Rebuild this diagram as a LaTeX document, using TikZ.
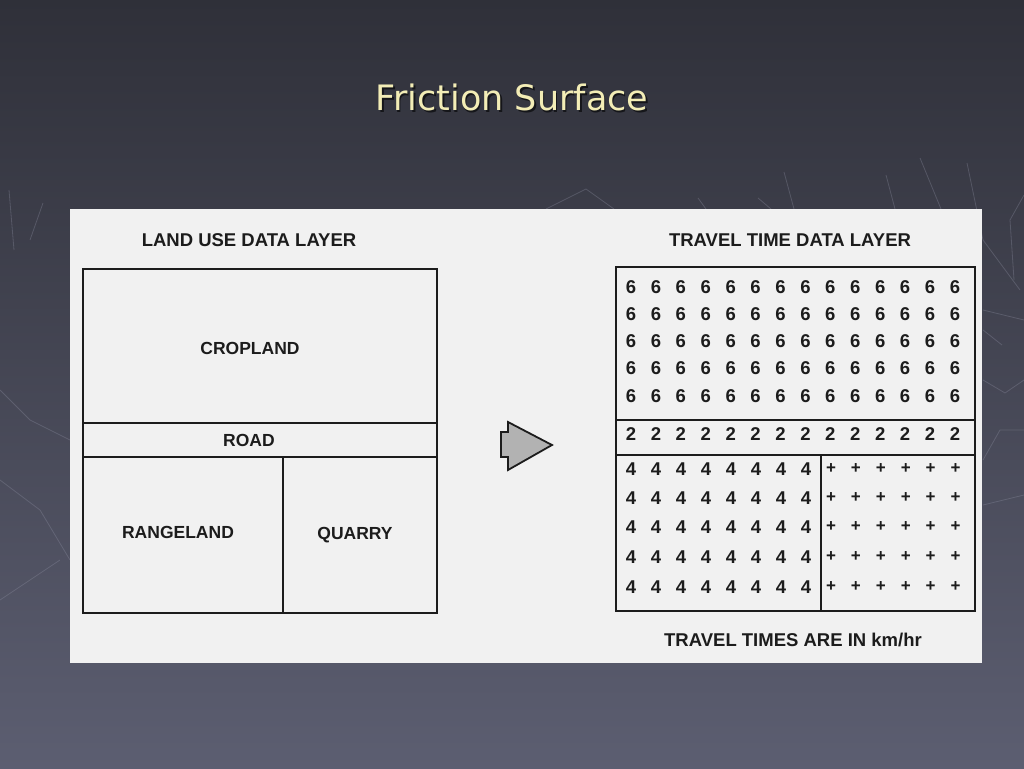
\documentclass[tikz,border=0pt]{standalone}
\usepackage{fontspec}
\newfontfamily\lab{Liberation Sans}
\newfontfamily\ttl{DejaVu Sans}
\definecolor{bgtop}{HTML}{2F3039}
\definecolor{bgbot}{HTML}{5C5E71}
\definecolor{paper}{HTML}{F1F1F1}
\definecolor{ink}{HTML}{1C1C1C}
\definecolor{titlecol}{HTML}{F3EDB6}
\definecolor{deco}{HTML}{8A8C9E}
\tikzset{
  border/.style={draw=ink, line width=1.8pt},
  divider/.style={draw=ink, line width=1.6pt},
  hdr/.style={font=\lab\bfseries\fontsize{18.5}{20}\selectfont, text=ink, inner sep=0pt},
  zone/.style={font=\lab\bfseries\fontsize{17.5}{19}\selectfont, text=ink, inner sep=0pt},
  cell/.style={font=\lab\bfseries\fontsize{18.5}{20}\selectfont, text=ink, inner sep=0pt},
  pluscell/.style={font=\lab\bfseries\fontsize{17}{18}\selectfont, text=ink, inner sep=0pt},
  decoline/.style={draw=deco, line width=0.8pt, opacity=0.35},
}
\begin{document}
\begin{tikzpicture}[x=1pt,y=-1pt]
\useasboundingbox (0,0) rectangle (1024,768);
% background
\shade[top color=bgtop, bottom color=bgbot] (0,0) rectangle (1024,768);
% faint decorative lines
\draw[decoline] (9,190) -- (14,250);
\draw[decoline] (43,203) -- (30,240);
\draw[decoline] (546,209) -- (586,189) -- (614,209);
\draw[decoline] (698,198) -- (706,209);
\draw[decoline] (758,198) -- (771,209);
\draw[decoline] (784,172) -- (794,209);
\draw[decoline] (886,175) -- (895,209);
\draw[decoline] (920,158) -- (941,209);
\draw[decoline] (967,163) -- (983,240) -- (1020,290);
\draw[decoline] (1024,195) -- (1010,220) -- (1014,280);
\draw[decoline] (983,310) -- (1024,320);
\draw[decoline] (983,330) -- (1002,345);
\draw[decoline] (983,380) -- (1005,393) -- (1024,380);
\draw[decoline] (983,460) -- (1000,430) -- (1024,430);
\draw[decoline] (983,505) -- (1024,495);
\draw[decoline] (0,390) -- (30,420) -- (70,440);
\draw[decoline] (0,480) -- (40,510) -- (70,560);
\draw[decoline] (0,600) -- (60,560);
% title
\node[font=\ttl\fontsize{35}{40}\selectfont, text=black, opacity=0.6, inner sep=0pt] (titleshadow) at (513.5,99) {Friction Surface};
\node[font=\ttl\fontsize{35}{40}\selectfont, text=titlecol, inner sep=0pt] (title) at (512,97) {Friction Surface};
% paper panel
\fill[paper] (70,209) rectangle (982,663);
% ---- land use layer ----
\node[hdr] (luhdr) at (249,240) {LAND USE DATA LAYER};
\draw[border] (83,269) rectangle (437,613);
\draw[divider] (83,423) -- (437,423);
\draw[divider] (83,457) -- (437,457);
\draw[divider] (283,457) -- (283,613);
\node[zone] (crop) at (250,348) {CROPLAND};
\node[zone] (road) at (249,440) {ROAD};
\node[zone] (range) at (178,532) {RANGELAND};
\node[zone] (quarry) at (355,535) {QUARRY};
% ---- arrow ----
\draw[fill=gray!60, draw=ink, line width=1.8pt, line join=miter]
  (501,432) -- (508,432) -- (508,422) -- (552,445) -- (508,470) -- (508,457) -- (501,457) -- cycle;
% ---- travel time layer ----
\node[hdr] (tthdr) at (790,240) {TRAVEL TIME DATA LAYER};
\draw[border] (616,267) rectangle (975,611);
\draw[divider] (616,420) -- (975,420);
\draw[divider] (616,455) -- (975,455);
\draw[divider] (821,455) -- (821,611);
\foreach \r/\y in {1/287,2/314,3/341,4/368,5/396}{
  \foreach \c in {0,...,13}{
    \node[cell] (six-\r-\c) at (631+24.92*\c,\y) {6};
  }
}
\foreach \c in {0,...,13}{
  \node[cell] (two-\c) at (631+24.92*\c,434) {2};
}
\foreach \r/\y in {1/469,2/498,3/527,4/557,5/587}{
  \foreach \c in {0,...,7}{
    \node[cell] (four-\r-\c) at (631+25*\c,\y) {4};
  }
  \foreach \c in {0,...,5}{
    \node[pluscell] (plus-\r-\c) at (831+24.9*\c,\y) {+};
  }
}
\node[hdr] (foot) at (793,640) {TRAVEL TIMES ARE IN km/hr};
\end{tikzpicture}
\end{document}
